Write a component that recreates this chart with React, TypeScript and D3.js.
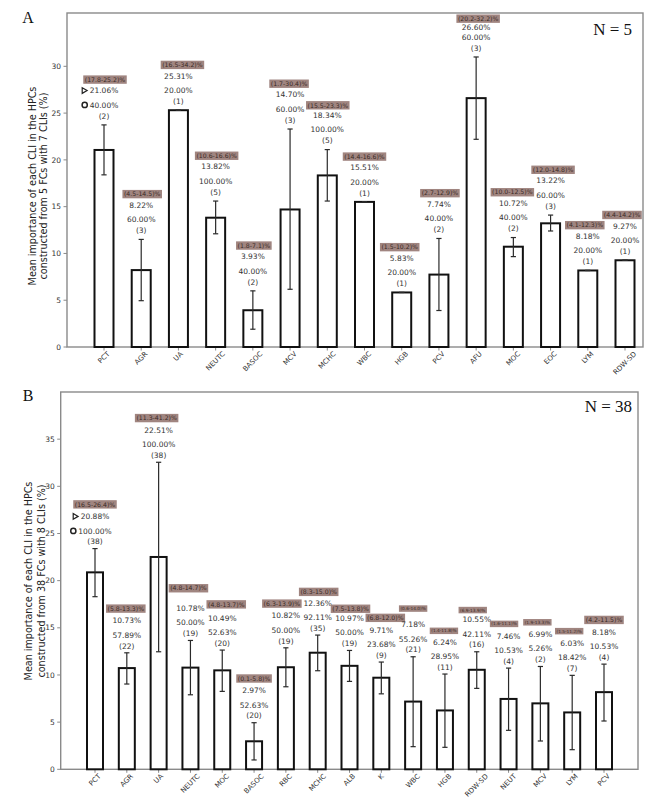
import React from 'react';
import * as d3 from 'd3';

// ---------- Panel A data ----------
const catsA = ['PCT', 'AGR', 'UA', 'NEUTC', 'BASOC', 'MCV', 'MCHC', 'WBC', 'HGB', 'PCV', 'AFU', 'MOC', 'EOC', 'LYM', 'RDW-SD'];
const meanA = [21.06, 8.22, 25.31, 13.82, 3.93, 14.7, 18.34, 15.51, 5.83, 7.74, 26.6, 10.72, 13.22, 8.18, 9.27];
const errLoA = [18.4, 4.95, 25.31, 12.1, 1.9, 6.17, 15.6, 15.51, 5.83, 3.9, 22.2, 9.66, 12.4, 8.18, 9.27];
const errHiA = [23.74, 11.5, 25.31, 15.6, 6.0, 23.3, 21.1, 15.51, 5.83, 11.6, 31.0, 11.7, 14.1, 8.18, 9.27];
const rangeA = ['(17.8-25.2)%', '(4.5-14.5)%', '(16.5-34.2)%', '(10.6-16.6)%', '(1.8-7.1)%', '(1.7-30.4)%', '(15.5-23.3)%', '(14.4-16.6)%', '(1.5-10.2)%', '(2.7-12.9)%', '(20.2-32.2)%', '(10.0-12.5)%', '(12.0-14.8)%', '(4.1-12.3)%', '(4.4-14.2)%'];
const shareA = ['40.00%', '60.00%', '20.00%', '100.00%', '40.00%', '60.00%', '100.00%', '20.00%', '20.00%', '40.00%', '60.00%', '40.00%', '60.00%', '20.00%', '20.00%'];
const countA = [2, 3, 1, 5, 2, 3, 5, 1, 1, 2, 3, 2, 3, 1, 1];
const yTicksA = [0, 5, 10, 15, 20, 25, 30];

// ---------- Panel B data ----------
const catsB = ['PCT', 'AGR', 'UA', 'NEUTC', 'MOC', 'BASOC', 'RBC', 'MCHC', 'ALB', 'K', 'WBC', 'HGB', 'RDW-SD', 'NEUT', 'MCV', 'LYM', 'PCV'];
const meanB = [20.88, 10.73, 22.51, 10.78, 10.49, 2.97, 10.82, 12.36, 10.97, 9.71, 7.18, 6.24, 10.55, 7.46, 6.99, 6.03, 8.18];
const errLoB = [18.3, 9.04, 12.46, 7.9, 8.26, 0.99, 8.75, 10.45, 9.32, 8.0, 2.4, 2.33, 8.58, 4.13, 3.0, 2.08, 5.12];
const errHiB = [23.4, 12.35, 32.55, 13.66, 12.64, 4.94, 12.88, 14.23, 12.6, 11.37, 11.93, 10.1, 12.46, 10.73, 10.9, 9.96, 11.15];
const rangeB = ['(16.5-26.4)%', '(5.8-13.3)%', '(11.3-41.2)%', '(4.8-14.7)%', '(4.8-13.7)%', '(0.1-5.8)%', '(6.3-13.9)%', '(8.3-15.0)%', '(7.5-13.8)%', '(6.8-12.0)%', '(0.6-14.0)%', '(1.4-11.8)%', '(6.9-13.9)%', '(1.6-11.1)%', '(1.9-13.3)%', '(1.5-11.2)%', '(4.2-11.5)%'];
const shareB = ['100.00%', '57.89%', '100.00%', '50.00%', '52.63%', '52.63%', '50.00%', '92.11%', '50.00%', '23.68%', '55.26%', '28.95%', '42.11%', '10.53%', '5.26%', '18.42%', '10.53%'];
const countB = [38, 22, 38, 19, 20, 20, 19, 35, 19, 9, 21, 11, 16, 4, 2, 7, 4];
const yTicksB = [0, 5, 10, 15, 20, 25, 30, 35];

// ---------- layout nudges (not data) ----------
const boxDxA = [1, 1, 4, 1, 1, -1, 0.5, 0, -2, 1, 2, -1, 2.5, -3, -3];
const boxDyA = [0, 0, 0, 0, 0, 0, 1, 0, 0, 0, 7, 0, 0, 0, 0];
const valDyA = [0, 0, 0, 0, 0, 0, 0, 0, 0, 0, 5, 0, 0, 0, 0];
const boxFsA = catsA.map(() => 6.2);

const boxDxB = [0, -1, -2, -2, 4, 0, -4, 1, 1, 4, 0, -1, -4, -4.5, -3, -3, 0];
const boxDyB = [0, 0, 0, -8, -1.5, 0, 0, 1, 2.5, 0, -4, 1, 2.5, 0, 0, 0, 0];
const valDyB = catsB.map(() => 0);
const boxFsB = [6.2, 6.2, 6.2, 6.2, 6.2, 6.2, 6.2, 6.2, 6.2, 6.2, 4.3, 4.3, 4.3, 4.3, 4.3, 4.3, 6.2];

let ctx: CanvasRenderingContext2D | null = null;
function measure(text: string, size: number) {
  if (!ctx) ctx = document.createElement('canvas').getContext('2d');
  if (!ctx) return text.length * size * 0.6;
  ctx.font = `${size}px "DejaVu Sans"`;
  return ctx.measureText(text).width;
}

const FONT = '"DejaVu Sans", sans-serif';

type PanelProps = {
  cats: string[]; mean: number[]; lo: number[]; hi: number[];
  range: string[]; share: string[]; count: number[]; yTicks: number[];
  xCenters: [number, number]; yMax: number;
  left: number; right: number; top: number; bottom: number;
  barW: number;
  gaps: { count: number; pct: number; value: number; box: number };
  boxDx: number[]; boxDy: number[]; valDy: number[]; boxFs: number[];
  letter: string; letterX: number; letterY: number;
  nLabel: string; nX: number; nY: number;
  axisLabel: [string, string]; labelX: [number, number]; labelY: number;
};

function Panel(p: PanelProps) {
  const x = d3.scalePoint<string>().domain(p.cats).range(p.xCenters);
  const y = d3.scaleLinear().domain([0, p.yMax]).range([p.bottom, p.top]);
  const tickFs = 7.5;
  const xTickFs = 7;
  const valFs = 7.5;
  return (
    <g>
      <text x={p.letterX} y={p.letterY} fontFamily='"Liberation Serif", serif' fontSize={16} textAnchor="middle" fill="#111">{p.letter}</text>
      <rect x={p.left} y={p.top} width={p.right - p.left} height={p.bottom - p.top} fill="none" stroke="#8a8a8a" strokeWidth={1.4} />
      {p.yTicks.map((t) => (
        <g key={'yt' + t}>
          <line x1={p.left - 3.5} x2={p.left} y1={y(t)} y2={y(t)} stroke="#8a8a8a" strokeWidth={1} />
          <text x={p.left - 6} y={y(t)} dy="0.35em" textAnchor="end" fontFamily={FONT} fontSize={tickFs} fill="#333">{t}</text>
        </g>
      ))}
      <text transform={`translate(${p.labelX[0]},${p.labelY}) rotate(-90)`} textAnchor="middle" dominantBaseline="central" fontFamily={FONT} fontSize={9.6} fill="#222">{p.axisLabel[0]}</text>
      <text transform={`translate(${p.labelX[1]},${p.labelY}) rotate(-90)`} textAnchor="middle" dominantBaseline="central" fontFamily={FONT} fontSize={9.6} fill="#222">{p.axisLabel[1]}</text>
      <text x={p.nX} y={p.nY} fontFamily='"Liberation Serif", serif' fontSize={17} textAnchor="end" fill="#111" style={{ whiteSpace: 'pre' }}>{p.nLabel}</text>
      {p.cats.map((c) => {
        const cx = x(c) as number;
        const w = measure(c, xTickFs);
        const d = (w + xTickFs) / (2 * Math.SQRT2);
        const ly = p.bottom + 3.5 + d;
        return (
          <g key={'xt' + c}>
            <line x1={cx} x2={cx} y1={p.bottom} y2={p.bottom + 3.5} stroke="#8a8a8a" strokeWidth={1} />
            <text transform={`translate(${cx},${ly}) rotate(-45)`} textAnchor="middle" dominantBaseline="central" fontFamily={FONT} fontSize={xTickFs} fill="#333">{c}</text>
          </g>
        );
      })}
      {p.cats.map((c, i) => {
        const cx = x(c) as number;
        const yt = y(p.mean[i]);
        return (
          <rect key={'bar' + c} x={cx - p.barW / 2} y={yt} width={p.barW} height={p.bottom - yt} fill="#fff" stroke="#111" strokeWidth={2} />
        );
      })}
      {p.cats.map((c, i) => {
        const cx = x(c) as number;
        const y1 = y(p.lo[i]);
        const y2 = y(p.hi[i]);
        return (
          <g key={'err' + c} stroke="#2a2a2a" strokeWidth={1.2}>
            <line x1={cx} x2={cx} y1={y1} y2={y2} />
            <line x1={cx - 2.6} x2={cx + 2.6} y1={y1} y2={y1} />
            <line x1={cx - 2.6} x2={cx + 2.6} y1={y2} y2={y2} />
          </g>
        );
      })}
      {p.cats.map((c, i) => {
        const cx = x(c) as number;
        const top = y(p.hi[i]);
        const yc = top - p.gaps.count;
        const yp = yc - p.gaps.pct;
        const yv = yp - p.gaps.value + p.valDy[i];
        const yb = yp - p.gaps.value - p.gaps.box + p.boxDy[i];
        const fs = p.boxFs[i];
        const bw = measure(p.range[i], fs) + 3;
        const bh = fs + 2.2;
        const bx = cx + p.boxDx[i];
        const valStr = (p.mean[i]).toFixed(2) + '%';
        const vw = measure(valStr, valFs);
        const sw = measure(p.share[i], valFs);
        return (
          <g key={'ann' + c} fontFamily={FONT}>
            <rect x={bx - bw / 2} y={yb - bh / 2} width={bw} height={bh} fill="#a08580" />
            <text x={bx} y={yb} dy="0.36em" textAnchor="middle" fontSize={fs} fill="#3a2a26">{p.range[i]}</text>
            <text x={cx} y={yv} dy="0.36em" textAnchor="middle" fontSize={valFs} fill="#333">{valStr}</text>
            <text x={cx} y={yp} dy="0.36em" textAnchor="middle" fontSize={valFs} fill="#333">{p.share[i]}</text>
            <text x={cx} y={yc} dy="0.36em" textAnchor="middle" fontSize={valFs} fill="#333">({p.count[i]})</text>
            {i === 0 && (
              <g>
                <path d={`M${cx - vw / 2 - 7.5},${yv - 2.8} L${cx - vw / 2 - 2.6},${yv} L${cx - vw / 2 - 7.5},${yv + 2.8} Z`} fill="none" stroke="#222" strokeWidth={1.2} />
                <circle cx={cx - sw / 2 - 5} cy={yp} r={2.6} fill="none" stroke="#222" strokeWidth={1.5} />
              </g>
            )}
          </g>
        );
      })}
    </g>
  );
}

export default function App() {
  return (
    <svg width={650} height={791} style={{ display: 'block', background: '#fff' }}>
      <g transform="translate(-8,-8)">
        <Panel
          cats={catsA} mean={meanA} lo={errLoA} hi={errHiA} range={rangeA} share={shareA} count={countA} yTicks={yTicksA}
          xCenters={[104, 625]} yMax={35.7} left={67} right={643} top={13} bottom={347} barW={19}
          gaps={{ count: 9, pct: 11, value: 14.3, box: 11 }}
          boxDx={boxDxA} boxDy={boxDyA} valDy={valDyA} boxFs={boxFsA}
          letter="A" letterX={28} letterY={23}
          nLabel="N = 5" nX={632} nY={35}
          axisLabel={['Mean importance of each CLI in the HPCs', 'constructed from 5 FCs with 7 CLIs (%)']}
          labelX={[32, 43]} labelY={186}
        />
        <Panel
          cats={catsB} mean={meanB} lo={errLoB} hi={errHiB} range={rangeB} share={shareB} count={countB} yTicks={yTicksB}
          xCenters={[95, 604]} yMax={40} left={60.7} right={638} top={392} bottom={769.3} barW={16}
          gaps={{ count: 7, pct: 10.7, value: 14.5, box: 12 }}
          boxDx={boxDxB} boxDy={boxDyB} valDy={valDyB} boxFs={boxFsB}
          letter="B" letterX={28} letterY={401}
          nLabel="N = 38" nX={632} nY={412}
          axisLabel={['Mean importance of each CLI in the HPCs', 'constructed from 38 FCs with 8 CLIs (%)']}
          labelX={[28, 41]} labelY={581}
        />
      </g>
    </svg>
  );
}
